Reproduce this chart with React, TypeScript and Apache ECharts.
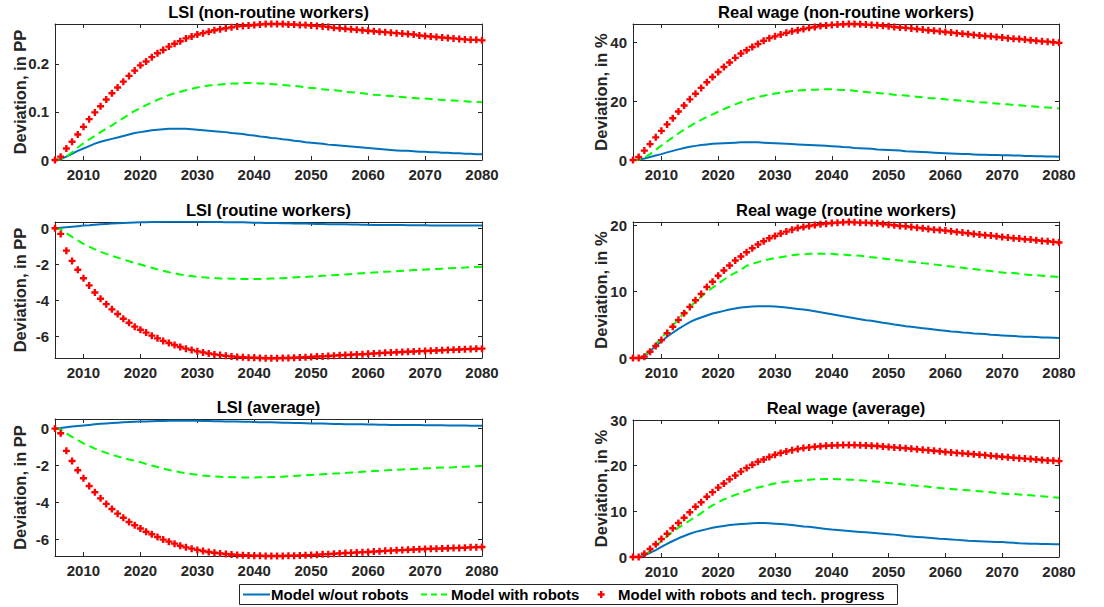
import React, { useEffect, useRef } from "react";
import * as echarts from "echarts";

// yearly simulation horizon 2005..2080
const years: number[] = Array.from({ length: 76 }, (_, i) => 2005 + i);
const xTicks = [2010, 2020, 2030, 2040, 2050, 2060, 2070, 2080];

const seriesNames = [
  "Model w/out robots",
  "Model with robots",
  "Model with robots and tech. progress",
];

// LSI (non-routine workers), in PP
const lsiNonRoutineBase = [
  0, 0.002, 0.007, 0.013, 0.019, 0.024, 0.029, 0.034, 0.038, 0.041,
  0.044, 0.047, 0.05, 0.053, 0.056, 0.058, 0.06, 0.062, 0.063, 0.064,
  0.065, 0.065, 0.065, 0.065, 0.064, 0.063, 0.062, 0.061, 0.06, 0.059,
  0.058, 0.056, 0.055, 0.054, 0.052, 0.051, 0.049, 0.048, 0.046, 0.045,
  0.043, 0.042, 0.04, 0.039, 0.037, 0.036, 0.035, 0.034, 0.032, 0.031,
  0.03, 0.029, 0.028, 0.027, 0.026, 0.025, 0.024, 0.023, 0.022, 0.021,
  0.02, 0.019, 0.019, 0.018, 0.017, 0.017, 0.016, 0.016, 0.015, 0.015,
  0.014, 0.014, 0.013, 0.013, 0.012, 0.012,
];
const lsiNonRoutineRobots = [
  0, 0.001, 0.007, 0.016, 0.026, 0.035, 0.043, 0.05, 0.058, 0.065,
  0.072, 0.08, 0.087, 0.095, 0.102, 0.108, 0.114, 0.12, 0.125, 0.13,
  0.135, 0.139, 0.142, 0.145, 0.148, 0.151, 0.153, 0.155, 0.156, 0.157,
  0.158, 0.159, 0.159, 0.16, 0.16, 0.16, 0.159, 0.159, 0.158, 0.157,
  0.156, 0.155, 0.154, 0.153, 0.151, 0.15, 0.149, 0.147, 0.146, 0.145,
  0.144, 0.142, 0.141, 0.14, 0.139, 0.1375, 0.136, 0.135, 0.134, 0.133,
  0.132, 0.131, 0.13, 0.129, 0.128, 0.128, 0.127, 0.126, 0.125, 0.124,
  0.124, 0.123, 0.122, 0.121, 0.121, 0.12,
];
const lsiNonRoutineTech = [
  0, 0.007, 0.024, 0.038, 0.053, 0.069, 0.085, 0.099, 0.112, 0.126,
  0.139, 0.151, 0.163, 0.175, 0.186, 0.197, 0.205, 0.214, 0.222, 0.229,
  0.236, 0.242, 0.247, 0.253, 0.257, 0.261, 0.264, 0.267, 0.27, 0.272,
  0.274, 0.276, 0.278, 0.279, 0.28, 0.281, 0.282, 0.283, 0.283, 0.283,
  0.283, 0.282, 0.282, 0.281, 0.281, 0.28, 0.279, 0.278, 0.277, 0.275,
  0.274, 0.273, 0.272, 0.271, 0.27, 0.269, 0.268, 0.267, 0.266, 0.265,
  0.264, 0.263, 0.262, 0.261, 0.259, 0.258, 0.257, 0.256, 0.255, 0.254,
  0.253, 0.252, 0.251, 0.25, 0.25, 0.249,
];

// Real wage (non-routine workers), in %
const wageNonRoutineBase = [
  0, 0.1, 0.5, 1.0, 1.5, 2.0, 2.6, 3.1, 3.6, 4.1,
  4.5, 4.8, 5.1, 5.3, 5.5, 5.6, 5.7, 5.8, 5.9, 6.0,
  6.0, 6.0, 6.0, 5.9, 5.8, 5.7, 5.6, 5.5, 5.4, 5.3,
  5.2, 5.1, 5.0, 4.9, 4.8, 4.7, 4.6, 4.4, 4.3, 4.1,
  4.0, 3.9, 3.8, 3.6, 3.5, 3.4, 3.3, 3.2, 3.0, 2.9,
  2.8, 2.7, 2.6, 2.5, 2.4, 2.3, 2.2, 2.1, 2.0, 2.0,
  1.9, 1.8, 1.8, 1.7, 1.7, 1.6, 1.6, 1.5, 1.5, 1.4,
  1.4, 1.3, 1.3, 1.2, 1.2, 1.1,
];
const wageNonRoutineRobots = [
  0, 0.1, 0.8, 2.0, 3.4, 4.9, 6.3, 7.7, 9.0, 10.3,
  11.5, 12.6, 13.6, 14.6, 15.5, 16.4, 17.3, 18.1, 18.9, 19.6,
  20.3, 20.9, 21.4, 21.8, 22.2, 22.6, 22.9, 23.2, 23.4, 23.6,
  23.7, 23.8, 23.9, 24.0, 24.0, 24.0, 23.9, 23.8, 23.7, 23.5,
  23.3, 23.1, 22.9, 22.8, 22.6, 22.4, 22.2, 22.0, 21.9, 21.7,
  21.5, 21.3, 21.1, 21.0, 20.8, 20.6, 20.4, 20.3, 20.1, 20.0,
  19.8, 19.6, 19.5, 19.3, 19.2, 19.0, 18.9, 18.7, 18.6, 18.4,
  18.3, 18.1, 18.0, 17.8, 17.7, 17.5,
];
const wageNonRoutineTech = [
  0, 1.0, 3.2, 5.4, 7.7, 9.9, 12.1, 14.2, 16.5, 18.5,
  20.6, 22.5, 24.5, 26.4, 28.2, 29.9, 31.6, 33.1, 34.7, 36.2,
  37.3, 38.4, 39.4, 40.5, 41.4, 42.0, 42.6, 43.2, 43.7, 44.1,
  44.5, 44.9, 45.2, 45.5, 45.7, 45.9, 46.0, 46.1, 46.2, 46.2,
  46.1, 46.0, 45.9, 45.8, 45.6, 45.4, 45.2, 45.0, 44.9, 44.7,
  44.5, 44.3, 44.1, 43.9, 43.7, 43.5, 43.3, 43.1, 42.9, 42.7,
  42.5, 42.3, 42.1, 42.0, 41.8, 41.6, 41.4, 41.2, 41.1, 40.9,
  40.7, 40.5, 40.3, 40.2, 40.0, 39.8,
];

// LSI (routine workers), in PP
const lsiRoutineBase = [
  0, 0.03, 0.06, 0.09, 0.12, 0.15, 0.17, 0.2, 0.22, 0.24,
  0.26, 0.28, 0.29, 0.31, 0.32, 0.33, 0.34, 0.35, 0.35, 0.36,
  0.36, 0.36, 0.36, 0.36, 0.36, 0.36, 0.36, 0.35, 0.35, 0.35,
  0.34, 0.34, 0.33, 0.33, 0.32, 0.31, 0.31, 0.3, 0.3, 0.29,
  0.28, 0.28, 0.27, 0.26, 0.26, 0.25, 0.24, 0.24, 0.23, 0.23,
  0.22, 0.22, 0.21, 0.21, 0.2, 0.2, 0.19, 0.19, 0.19, 0.18,
  0.18, 0.18, 0.17, 0.17, 0.17, 0.17, 0.16, 0.16, 0.16, 0.16,
  0.16, 0.15, 0.15, 0.15, 0.15, 0.15,
];
const lsiRoutineRobots = [
  0, -0.05, -0.28, -0.48, -0.67, -0.86, -1.02, -1.17, -1.3, -1.42,
  -1.53, -1.63, -1.73, -1.83, -1.92, -2.01, -2.1, -2.19, -2.28, -2.36,
  -2.44, -2.5, -2.56, -2.61, -2.65, -2.69, -2.72, -2.74, -2.76, -2.78,
  -2.79, -2.8, -2.81, -2.82, -2.82, -2.82, -2.81, -2.8, -2.79, -2.78,
  -2.77, -2.75, -2.73, -2.71, -2.7, -2.68, -2.66, -2.64, -2.62, -2.6,
  -2.58, -2.56, -2.54, -2.51, -2.49, -2.47, -2.45, -2.43, -2.41, -2.4,
  -2.38, -2.36, -2.34, -2.32, -2.31, -2.29, -2.27, -2.26, -2.24, -2.22,
  -2.21, -2.19, -2.18, -2.16, -2.15, -2.14,
];
const lsiRoutineTech = [
  0, -0.31, -1.24, -1.81, -2.3, -2.77, -3.17, -3.56, -3.91, -4.21,
  -4.5, -4.76, -5.02, -5.24, -5.46, -5.63, -5.79, -5.96, -6.11, -6.25,
  -6.37, -6.48, -6.59, -6.68, -6.75, -6.83, -6.89, -6.95, -7.0, -7.04,
  -7.08, -7.11, -7.14, -7.16, -7.18, -7.19, -7.2, -7.21, -7.21, -7.21,
  -7.2, -7.2, -7.19, -7.17, -7.16, -7.14, -7.12, -7.11, -7.09, -7.07,
  -7.05, -7.03, -7.02, -7.0, -6.99, -6.97, -6.95, -6.93, -6.91, -6.9,
  -6.88, -6.87, -6.85, -6.84, -6.82, -6.81, -6.8, -6.78, -6.77, -6.75,
  -6.74, -6.73, -6.71, -6.7, -6.69, -6.68,
];

// Real wage (routine workers), in %
const wageRoutineBase = [
  0, 0.0, 0.3, 1.0, 1.8, 2.5, 3.2, 3.8, 4.4, 4.9,
  5.4, 5.8, 6.1, 6.4, 6.7, 6.9, 7.1, 7.3, 7.45, 7.6,
  7.7, 7.75, 7.8, 7.8, 7.8, 7.75, 7.7, 7.6, 7.5, 7.4,
  7.3, 7.2, 7.05, 6.9, 6.75, 6.6, 6.45, 6.3, 6.15, 6.0,
  5.85, 5.7, 5.6, 5.45, 5.3, 5.2, 5.05, 4.95, 4.8, 4.7,
  4.6, 4.5, 4.4, 4.3, 4.2, 4.1, 4.0, 3.95, 3.85, 3.8,
  3.7, 3.65, 3.6, 3.5, 3.45, 3.4, 3.35, 3.3, 3.25, 3.2,
  3.2, 3.15, 3.1, 3.1, 3.05, 3.0,
];
const wageRoutineRobots = [
  0, 0.0, 0.4, 1.2, 2.1, 3.0, 3.95, 4.9, 5.85, 6.8,
  7.7, 8.5, 9.25, 9.95, 10.6, 11.2, 11.8, 12.35, 12.85, 13.3,
  13.9, 14.2, 14.45, 14.7, 14.9, 15.05, 15.2, 15.35, 15.5, 15.6,
  15.6, 15.7, 15.7, 15.7, 15.7, 15.7, 15.6, 15.6, 15.5, 15.5,
  15.4, 15.3, 15.2, 15.1, 15.0, 14.9, 14.8, 14.7, 14.6, 14.5,
  14.4, 14.3, 14.2, 14.1, 14.0, 13.9, 13.8, 13.7, 13.6, 13.5,
  13.4, 13.3, 13.2, 13.1, 13.0, 12.9, 12.8, 12.8, 12.7, 12.6,
  12.5, 12.5, 12.4, 12.3, 12.3, 12.2,
];
const wageRoutineTech = [
  0, 0.0, 0.2, 0.95, 1.8, 2.7, 3.75, 4.7, 5.75, 6.75,
  7.7, 8.7, 9.65, 10.7, 11.5, 12.4, 13.2, 13.95, 14.7, 15.3,
  15.95, 16.55, 17.1, 17.6, 18.05, 18.4, 18.75, 19.05, 19.35, 19.6,
  19.75, 19.9, 20.05, 20.15, 20.25, 20.35, 20.4, 20.45, 20.5, 20.45,
  20.4, 20.4, 20.35, 20.3, 20.2, 20.1, 20.0, 19.9, 19.85, 19.75,
  19.65, 19.55, 19.45, 19.35, 19.3, 19.2, 19.1, 19.0, 18.9, 18.8,
  18.7, 18.6, 18.5, 18.45, 18.35, 18.25, 18.15, 18.05, 18.0, 17.9,
  17.85, 17.75, 17.65, 17.6, 17.5, 17.4,
];

// LSI (average), in PP
const lsiAverageBase = [
  0, 0.03, 0.07, 0.11, 0.14, 0.17, 0.2, 0.23, 0.26, 0.28,
  0.3, 0.32, 0.34, 0.36, 0.37, 0.38, 0.39, 0.4, 0.41, 0.41,
  0.42, 0.42, 0.42, 0.42, 0.42, 0.42, 0.41, 0.41, 0.4, 0.4,
  0.39, 0.39, 0.38, 0.37, 0.37, 0.36, 0.35, 0.34, 0.34, 0.33,
  0.32, 0.31, 0.3, 0.3, 0.29, 0.28, 0.27, 0.27, 0.26, 0.25,
  0.25, 0.24, 0.24, 0.23, 0.23, 0.22, 0.22, 0.21, 0.21, 0.2,
  0.2, 0.2, 0.19, 0.19, 0.19, 0.18, 0.18, 0.18, 0.18, 0.17,
  0.17, 0.17, 0.17, 0.16, 0.16, 0.16,
];
const lsiAverageRobots = [
  0, -0.05, -0.26, -0.45, -0.63, -0.8, -0.95, -1.09, -1.21, -1.32,
  -1.42, -1.51, -1.6, -1.68, -1.75, -1.82, -1.92, -2.01, -2.09, -2.17,
  -2.25, -2.31, -2.37, -2.42, -2.47, -2.51, -2.55, -2.58, -2.6, -2.62,
  -2.63, -2.64, -2.65, -2.66, -2.66, -2.66, -2.65, -2.64, -2.63, -2.62,
  -2.61, -2.59, -2.57, -2.55, -2.54, -2.52, -2.5, -2.48, -2.46, -2.44,
  -2.43, -2.41, -2.39, -2.37, -2.35, -2.33, -2.31, -2.29, -2.27, -2.25,
  -2.24, -2.22, -2.21, -2.19, -2.18, -2.16, -2.15, -2.13, -2.12, -2.11,
  -2.1, -2.08, -2.07, -2.06, -2.05, -2.03,
];
const lsiAverageTech = [
  0, -0.25, -1.21, -1.76, -2.26, -2.7, -3.12, -3.46, -3.79, -4.09,
  -4.37, -4.62, -4.84, -5.07, -5.25, -5.43, -5.6, -5.74, -5.89, -6.03,
  -6.14, -6.25, -6.36, -6.45, -6.52, -6.59, -6.65, -6.7, -6.74, -6.78,
  -6.81, -6.84, -6.86, -6.88, -6.89, -6.9, -6.91, -6.92, -6.92, -6.92,
  -6.92, -6.91, -6.9, -6.89, -6.88, -6.87, -6.85, -6.83, -6.82, -6.8,
  -6.78, -6.76, -6.75, -6.73, -6.71, -6.7, -6.68, -6.66, -6.64, -6.63,
  -6.61, -6.6, -6.58, -6.57, -6.55, -6.54, -6.53, -6.52, -6.51, -6.5,
  -6.49, -6.48, -6.47, -6.45, -6.44, -6.43,
];

// Real wage (average), in %
const wageAverageBase = [
  0, 0.0, 0.3, 0.9, 1.5, 2.2, 2.9, 3.5, 4.1, 4.6,
  5.1, 5.5, 5.8, 6.1, 6.4, 6.6, 6.8, 7.0, 7.1, 7.2,
  7.3, 7.4, 7.45, 7.45, 7.4, 7.3, 7.2, 7.1, 7.0, 6.85,
  6.7, 6.6, 6.45, 6.3, 6.15, 6.0, 5.9, 5.8, 5.7, 5.6,
  5.5, 5.4, 5.3, 5.2, 5.1, 5.0, 4.9, 4.75, 4.6, 4.5,
  4.4, 4.3, 4.2, 4.1, 4.0, 3.95, 3.85, 3.75, 3.65, 3.55,
  3.5, 3.45, 3.4, 3.35, 3.3, 3.3, 3.2, 3.1, 3.0, 2.95,
  2.9, 2.9, 2.85, 2.85, 2.8, 2.8,
];
const wageAverageRobots = [
  0, 0.0, 0.4, 1.3, 2.4, 3.5, 4.5, 5.5, 6.4, 7.2,
  8.0, 8.8, 9.6, 10.5, 11.3, 12.0, 12.6, 13.1, 13.6, 14.0,
  14.5, 14.9, 15.2, 15.5, 15.8, 16.1, 16.3, 16.5, 16.6, 16.7,
  16.8, 16.9, 17.0, 17.0, 17.1, 17.1, 17.0, 17.0, 16.9, 16.9,
  16.8, 16.7, 16.6, 16.5, 16.4, 16.2, 16.1, 16.0, 15.8, 15.7,
  15.6, 15.5, 15.4, 15.2, 15.1, 15.0, 14.9, 14.8, 14.7, 14.6,
  14.5, 14.4, 14.3, 14.2, 14.0, 13.9, 13.8, 13.8, 13.7, 13.6,
  13.5, 13.4, 13.3, 13.2, 13.1, 13.0,
];
const wageAverageTech = [
  0, 0.0, 0.7, 1.75, 2.8, 3.95, 5.1, 6.3, 7.45, 8.6,
  9.8, 11.0, 12.0, 13.2, 14.2, 15.2, 16.1, 17.0, 17.85, 18.7,
  19.5, 20.2, 20.85, 21.35, 21.9, 22.4, 22.8, 23.1, 23.4, 23.65,
  23.85, 24.0, 24.15, 24.25, 24.35, 24.4, 24.45, 24.5, 24.5, 24.5,
  24.45, 24.4, 24.35, 24.3, 24.2, 24.1, 24.0, 23.9, 23.8, 23.7,
  23.6, 23.5, 23.4, 23.25, 23.15, 23.0, 22.9, 22.8, 22.7, 22.6,
  22.5, 22.4, 22.3, 22.15, 22.05, 21.95, 21.85, 21.75, 21.65, 21.55,
  21.45, 21.35, 21.25, 21.15, 21.1, 21.0,
];

const panels = [
  { title: "LSI (non-routine workers)", yName: "Deviation, in PP", lines: [lsiNonRoutineBase, lsiNonRoutineRobots, lsiNonRoutineTech], yMin: 0, yMax: 0.283, yTicks: [0, 0.1, 0.2] },
  { title: "Real wage (non-routine workers)", yName: "Deviation, in %", lines: [wageNonRoutineBase, wageNonRoutineRobots, wageNonRoutineTech], yMin: 0, yMax: 46.2, yTicks: [0, 20, 40] },
  { title: "LSI (routine workers)", yName: "Deviation, in PP", lines: [lsiRoutineBase, lsiRoutineRobots, lsiRoutineTech], yMin: -7.2, yMax: 0.35, yTicks: [-6, -4, -2, 0] },
  { title: "Real wage (routine workers)", yName: "Deviation, in %", lines: [wageRoutineBase, wageRoutineRobots, wageRoutineTech], yMin: 0, yMax: 20.5, yTicks: [0, 10, 20] },
  { title: "LSI (average)", yName: "Deviation, in PP", lines: [lsiAverageBase, lsiAverageRobots, lsiAverageTech], yMin: -6.92, yMax: 0.52, yTicks: [-6, -4, -2, 0] },
  { title: "Real wage (average)", yName: "Deviation, in %", lines: [wageAverageBase, wageAverageRobots, wageAverageTech], yMin: 0, yMax: 30, yTicks: [0, 10, 20, 30] },
];

// plot boxes, MATLAB subplot layout
const boxes = [
  { left: 55, top: 24, width: 427, height: 136 },
  { left: 633, top: 24, width: 426, height: 136 },
  { left: 55, top: 222, width: 427, height: 136 },
  { left: 633, top: 222, width: 426, height: 136 },
  { left: 55, top: 419, width: 427, height: 137 },
  { left: 633, top: 420, width: 426, height: 137 },
];

const FONT = '"Liberation Sans", Arial, Helvetica, sans-serif';
const AXIS = "#262626";
const BLUE = "#0072BD";
const GREEN = "#00FF00";
const RED = "#FF0000";
const PLUS = "path://M2.3,0H4.7V2.3H7V4.7H4.7V7H2.3V4.7H0V2.3H2.3Z";

const App: React.FC = () => {
  const chartRef = useRef<HTMLDivElement>(null);

  useEffect(() => {
    const dom = chartRef.current;
    if (!dom) return;
    const chart = echarts.init(dom, undefined, { renderer: "svg" });

    const grids: any[] = [];
    const xAxes: any[] = [];
    const yAxes: any[] = [];
    const series: any[] = [];
    const graphics: any[] = [];

    const lineStyle = { color: AXIS, width: 1 };
    const tickStyle = { inside: true, length: 4, lineStyle };
    const labelStyle = { color: AXIS, fontSize: 15, fontWeight: "bold", fontFamily: FONT };

    panels.forEach((p, g) => {
      const b = boxes[g];
      grids.push({ left: b.left, top: b.top, width: b.width, height: b.height });

      // bottom + top x axes (box with ticks on all sides)
      xAxes.push({
        type: "value", gridIndex: g, position: "bottom", min: 2005, max: 2080,
        axisLine: { onZero: false, lineStyle },
        axisTick: { ...tickStyle, customValues: xTicks },
        axisLabel: { ...labelStyle, customValues: xTicks, margin: 7, formatter: (v: number) => String(v) },
        splitLine: { show: false },
      });
      xAxes.push({
        type: "value", gridIndex: g, position: "top", min: 2005, max: 2080,
        axisLine: { onZero: false, lineStyle },
        axisTick: { ...tickStyle, customValues: xTicks },
        axisLabel: { show: false },
        splitLine: { show: false },
      });
      yAxes.push({
        type: "value", gridIndex: g, position: "left", min: p.yMin, max: p.yMax,
        axisLine: { show: true, onZero: false, lineStyle },
        axisTick: { ...tickStyle, customValues: p.yTicks },
        axisLabel: { ...labelStyle, customValues: p.yTicks, margin: 6, formatter: (v: number) => String(v) },
        splitLine: { show: false },
      });
      yAxes.push({
        type: "value", gridIndex: g, position: "right", min: p.yMin, max: p.yMax,
        axisLine: { show: true, onZero: false, lineStyle },
        axisTick: { ...tickStyle, customValues: p.yTicks },
        axisLabel: { show: false },
        splitLine: { show: false },
      });

      const [base, robots, tech] = p.lines;
      series.push({
        name: seriesNames[0], type: "line", xAxisIndex: 2 * g, yAxisIndex: 2 * g,
        data: years.map((y, i) => [y, base[i]]),
        symbol: "none", lineStyle: { color: BLUE, width: 2 }, z: 2,
      });
      series.push({
        name: seriesNames[1], type: "line", xAxisIndex: 2 * g, yAxisIndex: 2 * g,
        data: years.map((y, i) => [y, robots[i]]),
        symbol: "none", lineStyle: { color: GREEN, width: 2, type: [8, 5] }, z: 3,
      });
      series.push({
        name: seriesNames[2], type: "scatter", xAxisIndex: 2 * g, yAxisIndex: 2 * g,
        data: years.map((y, i) => [y, tech[i]]),
        symbol: PLUS, symbolSize: 7, itemStyle: { color: RED, opacity: 1 }, clip: false, z: 4,
      });

      // subplot title and y label
      graphics.push({
        type: "text", x: b.left + b.width / 2, y: b.top - 12,
        style: { text: p.title, fill: "#000", font: `bold 16.5px ${FONT}`, align: "center", verticalAlign: "middle", textAlign: "center", textVerticalAlign: "middle" },
      });
      graphics.push({
        type: "text", x: g % 2 === 0 ? 20 : 601, y: b.top + b.height / 2, rotation: Math.PI / 2,
        style: { text: p.yName, fill: AXIS, font: `bold 16.5px ${FONT}`, align: "center", verticalAlign: "middle", textAlign: "center", textVerticalAlign: "middle" },
      });
    });

    // legend box drawn like MATLAB's
    const ly = 594.5;
    const legendFont = `bold 15px ${FONT}`;
    graphics.push(
      { type: "rect", shape: { x: 239.5, y: 584.5, width: 658, height: 20 }, style: { fill: "#fff", stroke: AXIS, lineWidth: 1 }, z: 10 },
      { type: "line", shape: { x1: 243, y1: ly, x2: 270, y2: ly }, style: { stroke: BLUE, lineWidth: 2 }, z: 11 },
      { type: "text", x: 271, y: ly, style: { text: seriesNames[0], fill: "#000", font: legendFont, align: "left", verticalAlign: "middle", textAlign: "left", textVerticalAlign: "middle" }, z: 11 },
      { type: "line", shape: { x1: 421, y1: ly, x2: 449, y2: ly }, style: { stroke: GREEN, lineWidth: 2, lineDash: [6, 4] }, z: 11 },
      { type: "text", x: 451, y: ly, style: { text: seriesNames[1], fill: "#000", font: legendFont, align: "left", verticalAlign: "middle", textAlign: "left", textVerticalAlign: "middle" }, z: 11 },
      { type: "rect", shape: { x: 600, y: ly - 3.5, width: 2.4, height: 7 }, style: { fill: RED }, z: 11 },
      { type: "rect", shape: { x: 597.7, y: ly - 1.2, width: 7, height: 2.4 }, style: { fill: RED }, z: 11 },
      { type: "text", x: 618, y: ly, style: { text: seriesNames[2], fill: "#000", font: legendFont, align: "left", verticalAlign: "middle", textAlign: "left", textVerticalAlign: "middle" }, z: 11 }
    );

    chart.setOption({
      animation: false,
      backgroundColor: "#fff",
      grid: grids,
      xAxis: xAxes,
      yAxis: yAxes,
      series,
      graphic: graphics,
    });

    return () => {
      chart.dispose();
    };
  }, []);

  return (
    <div
      ref={chartRef}
      style={{ position: "absolute", left: 0, top: 0, width: "1104px", height: "607px" }}
    />
  );
};

export default App;
